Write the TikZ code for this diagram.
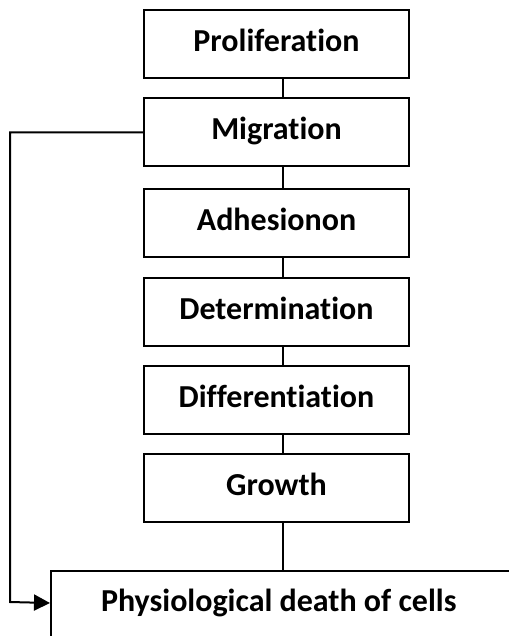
\documentclass[tikz,border=0pt]{standalone}
\usepackage{fontspec}
\setmainfont{Carlito}[Ligatures=NoCommon]
\usetikzlibrary{arrows.meta, positioning, calc}
\tikzset{
  stagebox/.style={draw=black, line width=2pt, fill=white, inner sep=0pt,
    minimum width=265pt, minimum height=68pt, text height=23pt, text depth=8pt,
    font=\fontsize{32}{36}\selectfont\bfseries},
  link/.style={line width=2pt, black}
}
\newcommand{\stagebox}[3]{%
  \node[stagebox] (#1) at (276.5,#2) {#3};}

\begin{document}
\begin{tikzpicture}[x=1pt, y=-1pt]
      \useasboundingbox (0,0) rectangle (508,636);
      \coordinate (spine) at (283,0);
      \stagebox{prol}{44}{Proliferation}
      \stagebox{migr}{132.5}{Migration}
      \stagebox{adhe}{223}{Adhesionon}
      \stagebox{dete}{312}{Determination}
      \stagebox{diff}{400}{Differentiation}
      \stagebox{grow}{487.5}{Growth}
      \node[stagebox, anchor=north west, minimum height=70pt, text depth=13pt,
            text width=440pt, align=flush left, inner xsep=50pt] (death) at (50,570)
            {Physiological death of cells};
      \draw[link] (prol.south -| spine) -- (migr.north -| spine);
      \draw[link] (migr.south -| spine) -- (adhe.north -| spine);
      \draw[link] (adhe.south -| spine) -- (dete.north -| spine);
      \draw[link] (dete.south -| spine) -- (diff.north -| spine);
      \draw[link] (diff.south -| spine) -- (grow.north -| spine);
      \draw[link] (grow.south -| spine) -- (death.north -| spine);
      \draw[link, -{Triangle[length=16pt, width=16pt]}] (migr.west) -| (10,602)
            -- ([yshift=3pt]death.west);
    \end{tikzpicture}
\end{document}
